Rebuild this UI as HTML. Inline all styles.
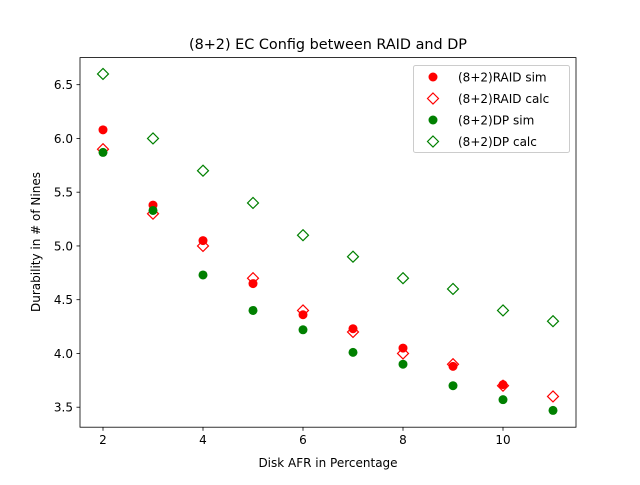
<!DOCTYPE html>
<html><head><meta charset="utf-8"><style>
body{margin:0;background:#fff;font-family:"Liberation Sans","DejaVu Sans",sans-serif}
svg text{font-family:"DejaVu Sans","Liberation Sans",sans-serif}
</style></head><body>
<svg id="chart" width="640" height="480" xmlns="http://www.w3.org/2000/svg">
<rect width="640" height="480" fill="#fff"/>
<text x="328" y="49" font-size="14.4" text-anchor="middle">(8+2) EC Config between RAID and DP</text>
<g id="ticks"></g>
<g id="marks"></g>
<rect x="80" y="57.6" width="496" height="369.6" fill="none" stroke="#000" stroke-width="0.8"/>
<text x="328" y="467" font-size="12" text-anchor="middle">Disk AFR in Percentage</text>
<text transform="translate(40,242) rotate(-90)" font-size="12" text-anchor="middle">Durability in # of Nines</text>
<g id="legend"></g>
</svg>
<script>
const afr = [2,3,4,5,6,7,8,9,10,11];
const raidSimX = [2,3,4,5,6,7,8,9,10];
const raidSim = [6.08,5.38,5.05,4.65,4.36,4.23,4.05,3.88,3.71];
const raidCalc = [5.9,5.3,5.0,4.7,4.4,4.2,4.0,3.9,3.7,3.6];
const dpSim = [5.87,5.33,4.73,4.40,4.22,4.01,3.90,3.70,3.57,3.47];
const dpCalc = [6.6,6.0,5.7,5.4,5.1,4.9,4.7,4.6,4.4,4.3];
const xTicks = [2,4,6,8,10];
const yTicks = ["3.5","4.0","4.5","5.0","5.5","6.0","6.5"];
const seriesNames = ["(8+2)RAID sim","(8+2)RAID calc","(8+2)DP sim","(8+2)DP calc"];

const NS="http://www.w3.org/2000/svg";
const X0=80,X1=576,Y0=427.2,Y1=57.6,xmin=1.54,xmax=11.46,ymin=3.314,ymax=6.752;
const sx=v=>X0+(v-xmin)/(xmax-xmin)*(X1-X0);
const sy=v=>Y0-(v-ymin)/(ymax-ymin)*(Y0-Y1);
function mk(tag,attrs,parent){const e=document.createElementNS(NS,tag);for(const k in attrs)e.setAttribute(k,attrs[k]);parent.appendChild(e);return e;}
const tg=document.getElementById('ticks');
xTicks.forEach(t=>{
  const l=mk('line',{x1:sx(t),x2:sx(t),y1:Y0,y2:Y0+3.5,stroke:'#000','stroke-width':0.8},tg);
  
  
  const tx=mk('text',{x:sx(t),y:Y0+17,'font-size':12,'text-anchor':'middle'},tg);tx.textContent=t;
  
  
});
yTicks.forEach(t=>{
  const v=parseFloat(t);
  const l=mk('line',{x1:X0-3.5,x2:X0,y1:sy(v),y2:sy(v),stroke:'#000','stroke-width':0.8},tg);
  
  
  const tx=mk('text',{x:X0-7,y:sy(v)+4.5,'font-size':12,'text-anchor':'end'},tg);tx.textContent=t;
  
  
});
const mg=document.getElementById('marks');
function dot(x,y,c,p,name){const e=mk('circle',{cx:x,cy:y,r:4.5,fill:c},p);return e;}
function dia(x,y,c,p,name){const r=5.5;const e=mk('polygon',{points:`${x},${y-r} ${x+r},${y} ${x},${y+r} ${x-r},${y}`,fill:'none',stroke:c,'stroke-width':1.2},p);return e;}
raidSim.forEach((v,i)=>dot(sx(raidSimX[i]),sy(v),'red',mg,'raid-sim-point'));
raidCalc.forEach((v,i)=>dia(sx(afr[i]),sy(v),'red',mg,'raid-calc-point'));
dpSim.forEach((v,i)=>dot(sx(afr[i]),sy(v),'green',mg,'dp-sim-point'));
dpCalc.forEach((v,i)=>dia(sx(afr[i]),sy(v),'green',mg,'dp-calc-point'));
const lg=document.getElementById('legend');
mk('rect',{x:413.5,y:65.5,width:156,height:87,rx:2,fill:'#fff','fill-opacity':0.8,stroke:'#ccc'},lg);
seriesNames.forEach((n,i)=>{
  const y=77+i*21.5,c=i<2?'red':'green';
  if(i%2==0)dot(433,y,c,lg,'legend-marker');else dia(433,y,c,lg,'legend-marker');
  const t=mk('text',{x:458,y:y+4.5,'font-size':12},lg);t.textContent=n;
  
  
});
</script>
</body></html>
